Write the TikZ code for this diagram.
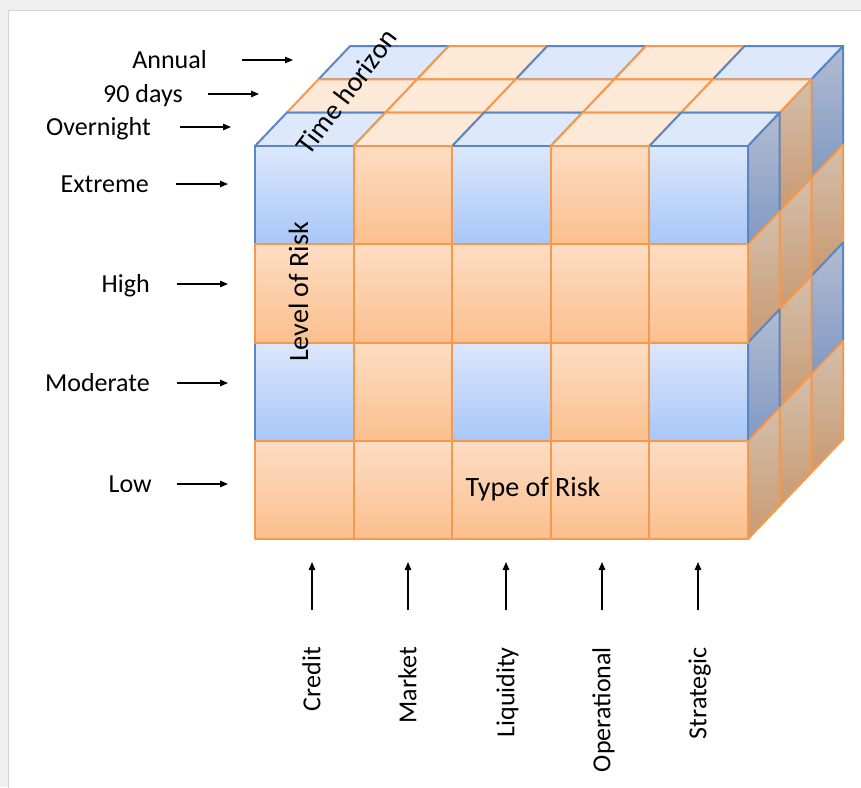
\documentclass[tikz,border=0pt]{standalone}
\usepackage{fontspec}
\setmainfont{Carlito}
\usepackage{tikz}
\usetikzlibrary{arrows.meta}
\definecolor{cbedge}{HTML}{5A86C4}
\definecolor{coedge}{HTML}{F5994C}
\definecolor{cbhi}{HTML}{DCE7FB}
\definecolor{cblo}{HTML}{A8C6F8}
\definecolor{cohi}{HTML}{FDDDC3}
\definecolor{colo}{HTML}{FBBF8E}
\definecolor{cbtop}{HTML}{DDE8FB}
\definecolor{cotop}{HTML}{FDE9D8}
\definecolor{cbsidehi}{HTML}{B2BCD0}
\definecolor{cbsidelo}{HTML}{8199C4}
\definecolor{cosidehi}{HTML}{D3BFAC}
\definecolor{cosidelo}{HTML}{C99A72}
\definecolor{cpanel}{HTML}{F0F0F0}
\definecolor{cframe}{HTML}{D4D4D4}
\newcommand\cubew{98.6}
\newcommand\cubeh{98.25}
\newcommand\depx{31.7}
\newcommand\depy{33.3}

\begin{document}
\begin{tikzpicture}[
  x=1pt, y=-1pt,
  font=\fontsize{26}{30}\selectfont,
  face/.style={line width=2pt, line join=round},
  bfront/.style={face, draw=cbedge, top color=cbhi, bottom color=cblo},
  ofront/.style={face, draw=coedge, top color=cohi, bottom color=colo},
  btop/.style={face, draw=cbedge, fill=cbtop},
  otop/.style={face, draw=coedge, fill=cotop},
  bside/.style={face, draw=cbedge, top color=cbsidehi, bottom color=cbsidelo},
  oside/.style={face, draw=coedge, top color=cosidehi, bottom color=cosidelo},
  lbl/.style={inner sep=0pt, text height=16.7pt, text depth=0pt},
  axtitle/.style={inner sep=0pt, text height=18pt, text depth=0pt, font=\fontsize{28}{32}\selectfont},
  pointer/.style={-{Triangle[length=8pt, width=6.5pt]}, line width=1.3pt}]
  \useasboundingbox (0,0) rectangle (861,787);
  \fill[cpanel] (0,0) rectangle (861,787);
  \filldraw[fill=white, draw=cframe] (8,10) rectangle (875,800);

  % back layers: tops and right sides
  \foreach \k in {2,1,0}{
    \foreach \i in {0,...,4}{
      \pgfmathtruncatemacro\blu{(mod(\i,2)==0)*(mod(\k,2)==0)}
      \ifnum\blu=1 \def\facesty{btop}\else\def\facesty{otop}\fi
      \draw[\facesty] ({255+\i*\cubew+\k*\depx},{146-\k*\depy}) -- ++(\cubew,0) -- ++(\depx,-\depy) -- ++(-\cubew,0) -- cycle;
    }
    \foreach \j in {0,...,3}{
      \pgfmathtruncatemacro\blu{(mod(\j,2)==0)*(mod(\k,2)==0)}
      \ifnum\blu=1 \def\facesty{bside}\else\def\facesty{oside}\fi
      \draw[\facesty] ({748+\k*\depx},{146+\j*\cubeh-\k*\depy}) -- ++(0,\cubeh) -- ++(\depx,-\depy) -- ++(0,-\cubeh) -- cycle;
    }
  }
  % front layer, orange over blue
  \foreach \pass in {1,0}{
    \foreach \j in {0,...,3}{
      \foreach \i in {0,...,4}{
        \pgfmathtruncatemacro\blu{(mod(\i,2)==0)*(mod(\j,2)==0)}
        \ifnum\blu=\pass
          \ifnum\blu=1 \def\facesty{bfront}\else\def\facesty{ofront}\fi
          \draw[\facesty] ({255+\i*\cubew},{146+\j*\cubeh}) rectangle ++(\cubew,\cubeh);
        \fi
      }
    }
  }

  % axis titles
  \node[axtitle] (typerisk) at (533,487) {Type of Risk};
  \node[axtitle, rotate=90] (levelrisk) at (299,292) {Level of Risk};
  \node[axtitle, rotate=53] (timehor) at (347,92) {Time horizon};

  % time horizon
  \node[lbl, anchor=east] (annual) at (207,60) {Annual};
  \node[lbl, anchor=east] (ninety) at (183,94) {90 days};
  \node[lbl, anchor=east] (overnight) at (151,127) {Overnight};
  \coordinate (annualtip) at (293,60);
  \coordinate (ninetytip) at (259,94);
  \coordinate (overnighttip) at (231,127);
  \draw[pointer] ([xshift=35pt]annual.east) -- (annualtip);
  \draw[pointer] ([xshift=25pt]ninety.east) -- (ninetytip);
  \draw[pointer] ([xshift=29pt]overnight.east) -- (overnighttip);

  % level of risk
  \node[lbl, anchor=east] (extreme) at (149,184) {Extreme};
  \node[lbl, anchor=east] (high) at (150,284) {High};
  \node[lbl, anchor=east] (moderate) at (150,383) {Moderate};
  \node[lbl, anchor=east] (low) at (152,484) {Low};
  \coordinate (extremetip) at (228,184);
  \coordinate (hightip) at (228,284);
  \coordinate (moderatetip) at (228,383);
  \coordinate (lowtip) at (228,484);
  \draw[pointer] ([xshift=27pt]extreme.east) -- (extremetip);
  \draw[pointer] ([xshift=27pt]high.east) -- (hightip);
  \draw[pointer] ([xshift=27pt]moderate.east) -- (moderatetip);
  \draw[pointer] ([xshift=25pt]low.east) -- (lowtip);

  % type of risk
  \node[lbl, rotate=90, anchor=east] (credit) at (312,647) {Credit};
  \node[lbl, rotate=90, anchor=east] (market) at (408,647) {Market};
  \node[lbl, rotate=90, anchor=east] (liquidity) at (506,647) {Liquidity};
  \node[lbl, rotate=90, anchor=east] (operational) at (602,647) {Operational};
  \node[lbl, rotate=90, anchor=east] (strategic) at (698,647) {Strategic};
  \coordinate (credittip) at (312,562);
  \coordinate (markettip) at (408,562);
  \coordinate (liquiditytip) at (506,562);
  \coordinate (operationaltip) at (602,562);
  \coordinate (strategictip) at (698,562);
  \draw[pointer] ([yshift=37pt]credit.east) -- (credittip);
  \draw[pointer] ([yshift=37pt]market.east) -- (markettip);
  \draw[pointer] ([yshift=37pt]liquidity.east) -- (liquiditytip);
  \draw[pointer] ([yshift=37pt]operational.east) -- (operationaltip);
  \draw[pointer] ([yshift=37pt]strategic.east) -- (strategictip);
\end{tikzpicture}
\end{document}
